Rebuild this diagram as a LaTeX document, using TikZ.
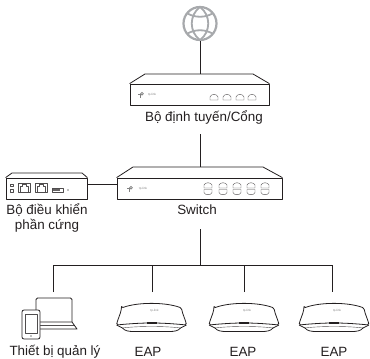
\documentclass[tikz,border=0pt]{standalone}
\usepackage{fontspec}
\setmainfont{Liberation Sans}
\usepackage{tikz}
\usetikzlibrary{positioning}
\definecolor{devline}{HTML}{231F20}
\definecolor{globegray}{HTML}{A7A9AC}
\tikzset{
	link/.style={draw=devline,line width=0.9pt},
	devline/.style={draw=devline,line width=0.8pt,line join=round},
	thinline/.style={draw=devline!80,line width=0.4pt,line join=round},
	devlabel/.style={text=devline,font=\fontsize{13.4}{15}\selectfont,align=center,inner sep=0pt},
	brand/.style={text=gray,font=\fontsize{3}{3}\selectfont,inner sep=0pt},
	upport/.pic={\draw[thinline] (-4,3) -- (-4,0) .. controls (-3,-3) and (3,-3) .. (4,0) -- (4,3) -- cycle;},
	downport/.pic={\draw[thinline] (-4,-3) -- (-4,0) .. controls (-3,3) and (3,3) .. (4,0) -- (4,-3) -- cycle;},
	tplogo/.pic={\fill[gray] (1,-1.2) circle (1.9);\fill[gray] (-0.9,-1.2) rectangle (0.2,2.6);\fill[gray] (-3,-1) rectangle (0,0);\fill[white] (1,-1.2) circle (0.6);},
	eapdevice/.pic={
		\draw[devline,rounded corners=1.5pt] (-30,0) .. controls (-14,-6) and (14,-6) .. (30,0) .. controls (31,6) and (34,12) .. (35,17)
			.. controls (25,16) and (12,15) .. (0,15) .. controls (-12,15) and (-25,16) .. (-35,17)
			.. controls (-34,12) and (-31,6) .. (-30,0) -- cycle;
		\draw[devline] (-35,17) -- (-29,20);
		\draw[devline] (35,17) -- (29,20);
		\draw[thinline] (-29,20) .. controls (-15,18) and (15,18) .. (29,20);
		\draw[devline] (-29,20) .. controls (-27,23) and (-22,23.5) .. (-18,23.5) -- (18,23.5)
			.. controls (22,23.5) and (27,23) .. (29,20);
		\draw[devline,line width=1.1pt] (-5,15) -- (5,15);
		\node[brand] at (3,3) {tp-link};
	}
}
\begin{document}
\begin{tikzpicture}[x=1pt,y=-1pt]
	\useasboundingbox (0,0) rectangle (370,359);

	% Internet
	\node[draw=globegray,line width=2.2pt,circle,minimum size=33pt,inner sep=0pt] (globe) at (200,23.5) {};
	\draw[globegray,line width=1.8pt] (200,7) .. controls (189,15) and (189,32) .. (200,40);
	\draw[globegray,line width=1.8pt] (200,7) .. controls (211,15) and (211,32) .. (200,40);
	\draw[globegray,line width=1.8pt] (187,13) .. controls (194,18) and (206,18) .. (213,13);
	\draw[globegray,line width=1.8pt] (187,34) .. controls (194,29) and (206,29) .. (213,34);

	% Router
	\node[devline,draw,minimum width=139pt,minimum height=21pt,inner sep=0pt] (router) at (199.5,94.5) {};
	\draw[devline] (router.north west) -- (145,74) -- (253,74) -- (router.north east);
	\coordinate (routertop) at (200,74);
	\pic at (141,95) {tplogo};
	\node[brand] (routerbrand) at (152,95) {tp-link};
	\foreach \x in {214,227,240,252}
		\draw[thinline] (\x-4,100) -- (\x-4,97) .. controls (\x-3,93.5) and (\x+3,93.5) .. (\x+4,97) -- (\x+4,100) -- cycle;
	\node[devlabel] (routerlabel) at (204,117) {Bộ định tuyến/Cổng};

	% Switch
	\node[devline,draw,minimum width=165pt,minimum height=21pt,inner sep=0pt] (switch) at (199.5,188.5) {};
	\draw[devline] (switch.north west) -- (133,167) -- (263,167) -- (switch.north east);
	\coordinate (switchtop) at (200,167);
	\coordinate (switchin) at (200,134);
	\coordinate (switchout) at (200,229);
	\pic at (130,189) {tplogo};
	\node[brand] (switchbrand) at (143,189) {tp-link};
	\foreach \x in {208,223,237,251,265} {
		\pic at (\x,185) {upport};
		\pic at (\x,192.5) {downport};
	}
	\node[devlabel] (switchlabel) at (197,210) {Switch};

	% Controller
	\node[devline,draw,minimum width=81pt,minimum height=21pt,inner sep=0pt] (controller) at (46.5,188.5) {};
	\draw[devline] (controller.north west) -- (12,173) -- (82,173) -- (controller.north east);
	\draw[thinline] (10,184) rectangle (13.5,186.5);
	\draw[thinline] (10,189.5) rectangle (13.5,192);
	\foreach \x in {18,35} {
		\draw[thinline] (\x,183) rectangle (\x+12,192);
		\draw[thinline] (\x+2,192) -- (\x+2,186) -- (\x+4,186) -- (\x+4,184.5) -- (\x+8,184.5) -- (\x+8,186) -- (\x+10,186) -- (\x+10,192);
	}
	\draw[thinline] (52,188) rectangle (63,192);
	\fill[devline!70] (53,189) rectangle (60,191);
	\fill[gray] (68,190) circle (0.8);
	\node[devlabel] (controllerlabel) at (47,217.5) {Bộ điều khiển\\phần cứng};

	% Management device
	\draw[devline,rounded corners=1.5pt] (36,322) -- (36,298) -- (72,298) -- (72,322);
	\draw[devline] (40,322) -- (72,322) -- (77,329) -- (40,329);
	\draw[thinline] (40,325) -- (74,325);
	\node[devline,draw,fill=white,rounded corners=2pt,minimum width=18pt,minimum height=29pt,inner sep=0pt] (phone) at (31,324.5) {};
	\draw[thinline] (25,314) rectangle (37,333);
	\fill[gray] (31,336) circle (0.8);
	\coordinate (manager) at (53,292);
	\node[devlabel] (managerlabel) at (55,352) {Thiết bị quản lý};

	% EAPs
	\pic at (151.5,308) {eapdevice};
	\pic at (244,308) {eapdevice};
	\pic at (334,308) {eapdevice};
	\coordinate (eapa) at (152,292);
	\coordinate (eapb) at (244,292);
	\coordinate (eapc) at (332,292);
	\node[devlabel] (eapalabel) at (148,352) {EAP};
	\node[devlabel] (eapblabel) at (243,352) {EAP};
	\node[devlabel] (eapclabel) at (334,352) {EAP};

	% Links
	\coordinate (bus) at (200,265);
	\draw[link] (globe) -- (routertop);
	\draw[link] (switchin) -- (switchtop);
	\draw[link] (controller.east |- 0,184) -- (switch.west |- 0,184);
	\draw[link] (switchout) -- (bus);
	\draw[link] (manager) -- (manager |- bus) -- (eapc |- bus) -- (eapc);
	\draw[link] (eapa) -- (eapa |- bus);
	\draw[link] (eapb) -- (eapb |- bus);
\end{tikzpicture}
\end{document}
